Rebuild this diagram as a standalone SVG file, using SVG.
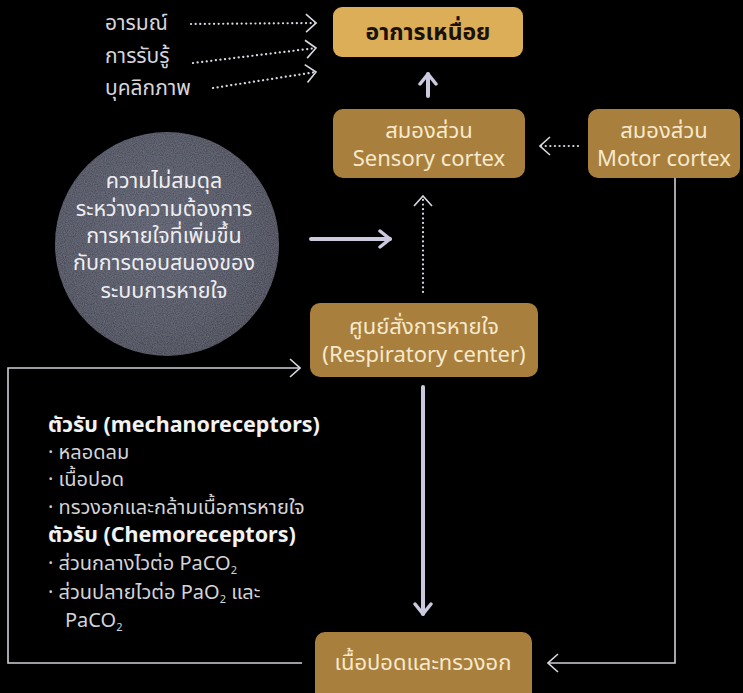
<svg xmlns="http://www.w3.org/2000/svg" width="743" height="693" viewBox="0 0 743 693">
  <style>
    text { font-family: "Noto Sans", "Noto Sans Thai", "Liberation Sans", sans-serif; }
    .box { fill: #a97f3d; }
    .box-hi { fill: #dcae57; }
    .boxtxt { fill: #f6e9cc; font-size: 22px; text-anchor: middle; }
    .title { fill: #1a1208; font-size: 23px; font-weight: bold; text-anchor: middle; }
    .lbl { fill: #d6d6dc; font-size: 21px; }
    .circtxt { fill: #eeeef2; font-size: 21.5px; text-anchor: middle; }
    .head { fill: #f2f2f2; font-size: 21.5px; font-weight: bold; }
    .item { fill: #d4d4d8; font-size: 20px; }
    .sub { font-size: 11px; }
    .line { fill: none; stroke: #cfcfd8; stroke-width: 1.6; }
    .dots { fill: none; stroke: #d8d8e0; stroke-width: 2.2; stroke-dasharray: 0.1 4.5; stroke-linecap: round; }
    .thick { fill: none; stroke: #cbc9de; stroke-width: 4; stroke-linecap: round; }
  </style>
  <defs>
    <marker id="chev" viewBox="0 0 12 20" refX="11" refY="10" markerWidth="12" markerHeight="20" markerUnits="userSpaceOnUse" orient="auto">
      <path d="M1,1 L11,10 L1,19" fill="none" stroke="#d8d8e0" stroke-width="1.6"/>
    </marker>
    <marker id="chevBold" viewBox="0 0 14 20" refX="12" refY="10" markerWidth="14" markerHeight="20" markerUnits="userSpaceOnUse" orient="auto">
      <path d="M2,2 L12,10 L2,18" fill="none" stroke="#cbc9de" stroke-width="3.5" stroke-linecap="round" stroke-linejoin="round"/>
    </marker>
    <radialGradient id="orb" cx="0.45" cy="0.45" r="0.6">
      <stop offset="0" stop-color="#4a4e60"/>
      <stop offset="0.7" stop-color="#3b3f50"/>
      <stop offset="1" stop-color="#2e3141"/>
    </radialGradient>
    <filter id="grain" x="0" y="0" width="1" height="1">
      <feTurbulence type="fractalNoise" baseFrequency="0.9" numOctaves="2" seed="3" result="n"/>
      <feColorMatrix in="n" type="matrix" values="0 0 0 0 0.5  0 0 0 0 0.5  0 0 0 0 0.55  0 0 0 0.25 0" result="g"/>
      <feComposite in="g" in2="SourceGraphic" operator="in" result="gm"/>
      <feBlend in="SourceGraphic" in2="gm" mode="screen"/>
    </filter>
  </defs>

  <rect width="743" height="693" fill="#000"/>

  <!-- connectors -->
  <g id="connectors">
    <path class="dots" d="M191,24 L316,23" marker-end="url(#chev)"/>
    <path class="dots" d="M193,63 L316,48" marker-end="url(#chev)"/>
    <path class="dots" d="M213,88 L316,72" marker-end="url(#chev)"/>
    <path class="thick" d="M428,96 L428,74" marker-end="url(#chevBold)"/>
    <path class="dots" d="M578,146 L540,146" marker-end="url(#chev)"/>
    <path class="thick" d="M311,239 L390,239" marker-end="url(#chevBold)"/>
    <path class="dots" d="M423,292 L423,196" marker-end="url(#chev)"/>
    <path class="thick" d="M423,387 L423,614" marker-end="url(#chevBold)"/>
    <path class="line" d="M675,178 L675,663 L548,663" marker-end="url(#chev)"/>
    <path class="line" d="M302,663 L8,663 L8,368 L300,368" marker-end="url(#chev)"/>
  </g>

  <!-- labels feeding dyspnea -->
  <g id="inputs">
    <text class="lbl" x="105" y="30">อารมณ์</text>
    <text class="lbl" x="105" y="63">การรับรู้</text>
    <text class="lbl" x="105" y="95">บุคลิกภาพ</text>
  </g>

  <g id="dyspnea">
    <rect class="box-hi" x="333" y="7" width="190" height="50" rx="9"/>
    <text class="title" x="428" y="40">อาการเหนื่อย</text>
  </g>

  <g id="sensory-cortex">
    <rect class="box" x="333" y="109" width="192" height="69" rx="10"/>
    <text class="boxtxt" x="429" y="138">สมองส่วน</text>
    <text class="boxtxt" x="429" y="166">Sensory cortex</text>
  </g>

  <g id="motor-cortex">
    <rect class="box" x="588" y="109" width="152" height="69" rx="10"/>
    <text class="boxtxt" x="664" y="138">สมองส่วน</text>
    <text class="boxtxt" x="664" y="166">Motor cortex</text>
  </g>

  <g id="mismatch">
    <circle cx="167" cy="244" r="112" fill="url(#orb)" filter="url(#grain)"/>
    <text class="circtxt" x="164" y="188">ความไม่สมดุล</text>
    <text class="circtxt" x="164" y="216">ระหว่างความต้องการ</text>
    <text class="circtxt" x="164" y="243">การหายใจที่เพิ่มขึ้น</text>
    <text class="circtxt" x="164" y="270">กับการตอบสนองของ</text>
    <text class="circtxt" x="164" y="298">ระบบการหายใจ</text>
  </g>

  <g id="respiratory-center">
    <rect class="box" x="310" y="303" width="228" height="74" rx="10"/>
    <text class="boxtxt" x="424" y="334" font-size="21">ศูนย์สั่งการหายใจ</text>
    <text class="boxtxt" x="424" y="362" font-size="21">(Respiratory center)</text>
  </g>

  <g id="receptors">
    <text class="head" x="48" y="432">ตัวรับ (mechanoreceptors)</text>
    <text class="item" x="48" y="459">· หลอดลม</text>
    <text class="item" x="48" y="486">· เนื้อปอด</text>
    <text class="item" x="48" y="514">· ทรวงอกและกล้ามเนื้อการหายใจ</text>
    <text class="head" x="48" y="542">ตัวรับ (Chemoreceptors)</text>
    <text class="item" x="48" y="570">· ส่วนกลางไวต่อ PaCO<tspan class="sub" dy="4">2</tspan></text>
    <text class="item" x="48" y="599">· ส่วนปลายไวต่อ PaO<tspan class="sub" dy="4">2</tspan><tspan dy="-4"> และ</tspan></text>
    <text class="item" x="65" y="627">PaCO<tspan class="sub" dy="4">2</tspan></text>
  </g>

  <g id="lungs-chest">
    <rect class="box" x="315" y="632" width="217" height="70" rx="10"/>
    <text class="boxtxt" x="423" y="670">เนื้อปอดและทรวงอก</text>
  </g>
</svg>
